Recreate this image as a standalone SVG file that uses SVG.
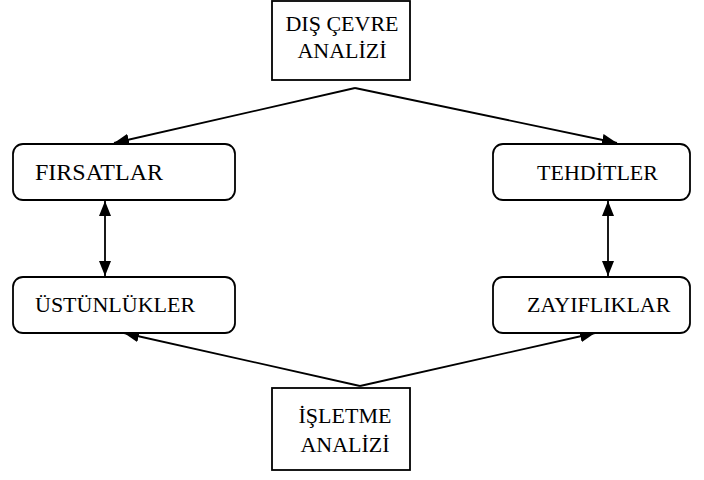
<svg xmlns="http://www.w3.org/2000/svg" width="704" height="480" viewBox="0 0 704 480">
  <style>
    .box { fill: #ffffff; stroke: #000000; stroke-width: 1.8; }
    .lbl { font-family: "Liberation Serif", "Times New Roman", serif; fill: #000000; }
    .mid { text-anchor: middle; font-size: 22px; }
    .big { font-size: 24px; }
    .small { font-size: 22px; }
    .edge { stroke: #000000; stroke-width: 1.8; fill: none; }
  </style>
  <defs>
    <marker id="arrow" viewBox="0 0 15 12" refX="15" refY="6" markerWidth="15" markerHeight="12" markerUnits="userSpaceOnUse" orient="auto-start-reverse">
      <path d="M0,0 L15,6 L0,12 Z" fill="#000000"/>
    </marker>
  </defs>
  <rect width="704" height="480" fill="#ffffff"/>

  <g id="connectors">
    <path class="edge" d="M355,88 L114,143" marker-end="url(#arrow)"/>
    <path class="edge" d="M355,88 L617,143" marker-end="url(#arrow)"/>
    <path class="edge" d="M105,201 L105,276" marker-start="url(#arrow)" marker-end="url(#arrow)"/>
    <path class="edge" d="M608,201 L608,276" marker-start="url(#arrow)" marker-end="url(#arrow)"/>
    <path class="edge" d="M360,386 L124,333" marker-end="url(#arrow)"/>
    <path class="edge" d="M360,386 L595,333" marker-end="url(#arrow)"/>
  </g>

  <g id="dis-cevre">
    <rect class="box" x="272" y="1" width="138" height="79"/>
    <text class="lbl mid" x="342" y="31">DIŞ ÇEVRE</text>
    <text class="lbl mid" x="342" y="58">ANALİZİ</text>
  </g>

  <g id="firsatlar">
    <rect class="box" x="13" y="144" width="222" height="56" rx="10"/>
    <text class="lbl big" x="35" y="180">FIRSATLAR</text>
  </g>

  <g id="tehditler">
    <rect class="box" x="493" y="144" width="197" height="56" rx="10"/>
    <text class="lbl small" x="537" y="180">TEHDİTLER</text>
  </g>

  <g id="ustunlukler">
    <rect class="box" x="13" y="277" width="222" height="56" rx="10"/>
    <text class="lbl small" x="35" y="312">ÜSTÜNLÜKLER</text>
  </g>

  <g id="zayifliklar">
    <rect class="box" x="493" y="277" width="197" height="56" rx="10"/>
    <text class="lbl small" x="527" y="312">ZAYIFLIKLAR</text>
  </g>

  <g id="isletme">
    <rect class="box" x="272" y="388" width="138" height="82"/>
    <text class="lbl mid" x="345" y="423">İŞLETME</text>
    <text class="lbl mid" x="345" y="452">ANALİZİ</text>
  </g>
</svg>
